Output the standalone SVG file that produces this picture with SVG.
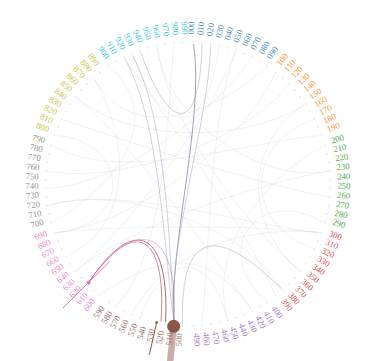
<svg xmlns="http://www.w3.org/2000/svg" width="374" height="361" viewBox="0 0 374 361">
<defs>
<style>
text{font-family:"Liberation Serif","Times New Roman",serif;font-size:8.7px;opacity:.85}
.e text{text-anchor:end}
.g0{fill:#1f77b4}.g1{fill:#ff7f0e}.g2{fill:#2ca02c}.g3{fill:#d62728}.g4{fill:#9467bd}
.g5{fill:#8c564b}.g6{fill:#e377c2}.g7{fill:#7f7f7f}.g8{fill:#bcbd22}.g9{fill:#17becf}
circle.d{fill:#e0e0e0}
.c{fill:none;stroke:#c4c6dc;stroke-width:.7;opacity:.35}
.h{fill:none;stroke:#a4a8c6;stroke-width:.8;opacity:.65}
.k{fill:none;stroke:#6f7499;stroke-width:.9;opacity:.75}
.p{fill:none;stroke:url(#pb);stroke-width:.9}
</style>
<linearGradient id="pb" gradientUnits="userSpaceOnUse" x1="88" y1="282" x2="165" y2="322">
<stop offset="0" stop-color="#d96aa8"/><stop offset="1" stop-color="#9a5a55"/>
</linearGradient>
</defs>
<rect width="374" height="361" fill="#fff"/>
<g id="connectors">
<path class="c" d="M274.7,74.1C244.6,142.9 131.4,225.1 56.7,232.5"/>
<path class="c" d="M287.4,85.4C244.6,142.9 118,184 48.6,171.2"/>
<path class="c" d="M303.7,105.2C244.6,142.9 244.6,225.1 298.7,269.7"/>
<path class="c" d="M312.5,119.9C244.6,142.9 244.6,225.1 312.5,248.1"/>
<path class="c" d="M322.8,146C258,184 209.6,250.6 227.2,318.4"/>
<path class="c" d="M327.4,171.2C258,184 131.4,225.1 77.3,269.7"/>
<path class="c" d="M327.4,196.8C258,184 131.4,142.9 63.5,119.9"/>
<path class="c" d="M322.8,222C258,184 209.6,250.6 265.8,300.4"/>
<path class="c" d="M319.3,232.5C244.6,225.1 166.4,250.6 132.7,312.6"/>
<path class="c" d="M281.2,288.5C244.6,225.1 118,184 49.6,205.3"/>
<path class="c" d="M251,309C209.6,250.6 131.4,142.9 77.3,98.3"/>
<path class="c" d="M202,323.3C209.6,250.6 209.6,117.4 235.3,52.2"/>
<path class="c" d="M67.7,255.6C131.4,225.1 131.4,142.9 94.8,79.5"/>
<path class="c" d="M56.7,232.5C131.4,225.1 131.4,142.9 56.7,135.5"/>
<path class="c" d="M53.2,222C118,184 166.4,117.4 110.2,67.6"/>
<path class="c" d="M48.1,188.3C118,184 209.6,117.4 251,59"/>
<path class="c" d="M53.2,146C118,184 244.6,142.9 319.3,135.5"/>
<path class="c" d="M125,59C166.4,117.4 244.6,225.1 274.7,293.9"/>
<path class="c" d="M157.1,47.5C166.4,117.4 258,184 327.4,171.2"/>
<path class="c" d="M174,44.7C166.4,117.4 166.4,250.6 117.5,304.9"/>
<path class="c" d="M132.7,55.4C165,140 205,140 218.9,47.5"/>
<path class="c" d="M101.3,293.9C166.4,250.6 209.6,250.6 251,309"/>
<path class="c" d="M140.7,315.8C166.4,250.6 209.6,250.6 227.2,318.4"/>
<path class="c" d="M77.3,98.3C131.4,142.9 244.6,142.9 303.7,105.2"/>
<path class="c" d="M94.8,79.5C131.4,142.9 209.6,117.4 265.8,67.6"/>
<path class="c" d="M49.6,205.3C118,184 244.6,225.1 319.3,232.5"/>
<path class="c" d="M56.7,232.5C131.4,225 244.6,225 319.3,232.5"/>
<path class="c" d="M235.3,52.2C209.6,117.4 131.4,225.1 77.3,269.7"/>
<path class="c" d="M157.1,47.5C166.4,117.4 244.6,225.1 298.7,269.7"/>
<path class="h" d="M182.5,323.9C180,225 220,228 281.2,288.5"/>
<path class="h" d="M140.7,52.2C170,135 200,135 202,44.7"/>
<path class="k" d="M193.5,44.1C205,117.4 168,250.6 174,323.3"/>
<path class="h" d="M210.5,45.8C209.6,117.4 166.4,250.6 174,323.3"/>
<path class="h" d="M132.7,55.4C166.4,117.4 170,250.6 174,323.3"/>
<path class="h" d="M125,59C160,120 164,250.6 174,323.3"/>
<path class="p" d="M88.6,282.6C135,212 170,232 165.5,322.2"/>
<path class="p" d="M88.6,282.6C135,215 167,234 161,321.5" opacity=".8"/>
<path class="p" d="M88.6,282.6C138,212 180,230 174,323.3" opacity=".45"/>
<line x1="109.9" y1="261.4" x2="63" y2="307.9" stroke="#e377c2" stroke-width="1"/>
<line x1="156.4" y1="323.5" x2="149.4" y2="354.7" stroke="#8c564b" stroke-width="1"/>
<line x1="173.7" y1="326.3" x2="169.5" y2="368" stroke="#bda39b" stroke-width="6.5" opacity=".85"/>
</g>
<g transform="translate(188,184)">
<g class="g0">
<g id="n000" transform="rotate(-87.75)"><circle class="d" cx="142" r=".8"/><text x="149.5">000</text></g>
<g id="n010" transform="rotate(-84.25)"><circle class="d" cx="142" r=".8"/><text x="149.5">010</text></g>
<g id="n020" transform="rotate(-80.75)"><circle class="d" cx="142" r=".8"/><text x="149.5">020</text></g>
<g id="n030" transform="rotate(-77.25)"><circle class="d" cx="142" r=".8"/><text x="149.5">030</text></g>
<g id="n040" transform="rotate(-73.75)"><circle class="d" cx="142" r=".8"/><text x="149.5">040</text></g>
<g id="n050" transform="rotate(-70.25)"><circle class="d" cx="142" r=".8"/><text x="149.5">050</text></g>
<g id="n060" transform="rotate(-66.75)"><circle class="d" cx="142" r=".8"/><text x="149.5">060</text></g>
<g id="n070" transform="rotate(-63.25)"><circle class="d" cx="142" r=".8"/><text x="149.5">070</text></g>
<g id="n080" transform="rotate(-59.75)"><circle class="d" cx="142" r=".8"/><text x="149.5">080</text></g>
<g id="n090" transform="rotate(-56.25)"><circle class="d" cx="142" r=".8"/><text x="149.5">090</text></g>
</g>
<g class="g1">
<g id="n100" transform="rotate(-51.75)"><circle class="d" cx="142" r=".8"/><text x="149.5">100</text></g>
<g id="n110" transform="rotate(-48.25)"><circle class="d" cx="142" r=".8"/><text x="149.5">110</text></g>
<g id="n120" transform="rotate(-44.75)"><circle class="d" cx="142" r=".8"/><text x="149.5">120</text></g>
<g id="n130" transform="rotate(-41.25)"><circle class="d" cx="142" r=".8"/><text x="149.5">130</text></g>
<g id="n140" transform="rotate(-37.75)"><circle class="d" cx="142" r=".8"/><text x="149.5">140</text></g>
<g id="n150" transform="rotate(-34.25)"><circle class="d" cx="142" r=".8"/><text x="149.5">150</text></g>
<g id="n160" transform="rotate(-30.75)"><circle class="d" cx="142" r=".8"/><text x="149.5">160</text></g>
<g id="n170" transform="rotate(-27.25)"><circle class="d" cx="142" r=".8"/><text x="149.5">170</text></g>
<g id="n180" transform="rotate(-23.75)"><circle class="d" cx="142" r=".8"/><text x="149.5">180</text></g>
<g id="n190" transform="rotate(-20.25)"><circle class="d" cx="142" r=".8"/><text x="149.5">190</text></g>
</g>
<g class="g2">
<g id="n200" transform="rotate(-15.75)"><circle class="d" cx="142" r=".8"/><text x="149.5">200</text></g>
<g id="n210" transform="rotate(-12.25)"><circle class="d" cx="142" r=".8"/><text x="149.5">210</text></g>
<g id="n220" transform="rotate(-8.75)"><circle class="d" cx="142" r=".8"/><text x="149.5">220</text></g>
<g id="n230" transform="rotate(-5.25)"><circle class="d" cx="142" r=".8"/><text x="149.5">230</text></g>
<g id="n240" transform="rotate(-1.75)"><circle class="d" cx="142" r=".8"/><text x="149.5">240</text></g>
<g id="n250" transform="rotate(1.75)"><circle class="d" cx="142" r=".8"/><text x="149.5">250</text></g>
<g id="n260" transform="rotate(5.25)"><circle class="d" cx="142" r=".8"/><text x="149.5">260</text></g>
<g id="n270" transform="rotate(8.75)"><circle class="d" cx="142" r=".8"/><text x="149.5">270</text></g>
<g id="n280" transform="rotate(12.25)"><circle class="d" cx="142" r=".8"/><text x="149.5">280</text></g>
<g id="n290" transform="rotate(15.75)"><circle class="d" cx="142" r=".8"/><text x="149.5">290</text></g>
</g>
<g class="g3">
<g id="n300" transform="rotate(20.25)"><circle class="d" cx="142" r=".8"/><text x="149.5">300</text></g>
<g id="n310" transform="rotate(23.75)"><circle class="d" cx="142" r=".8"/><text x="149.5">310</text></g>
<g id="n320" transform="rotate(27.25)"><circle class="d" cx="142" r=".8"/><text x="149.5">320</text></g>
<g id="n330" transform="rotate(30.75)"><circle class="d" cx="142" r=".8"/><text x="149.5">330</text></g>
<g id="n340" transform="rotate(34.25)"><circle class="d" cx="142" r=".8"/><text x="149.5">340</text></g>
<g id="n350" transform="rotate(37.75)"><circle class="d" cx="142" r=".8"/><text x="149.5">350</text></g>
<g id="n360" transform="rotate(41.25)"><circle class="d" cx="142" r=".8"/><text x="149.5">360</text></g>
<g id="n370" transform="rotate(44.75)"><circle class="d" cx="142" r=".8"/><text x="149.5">370</text></g>
<g id="n380" transform="rotate(48.25)"><circle class="d" cx="142" r=".8"/><text x="149.5">380</text></g>
<g id="n390" transform="rotate(51.75)"><circle class="d" cx="142" r=".8"/><text x="149.5">390</text></g>
</g>
<g class="g4">
<g id="n400" transform="rotate(56.25)"><circle class="d" cx="142" r=".8"/><text x="149.5">400</text></g>
<g id="n410" transform="rotate(59.75)"><circle class="d" cx="142" r=".8"/><text x="149.5">410</text></g>
<g id="n420" transform="rotate(63.25)"><circle class="d" cx="142" r=".8"/><text x="149.5">420</text></g>
<g id="n430" transform="rotate(66.75)"><circle class="d" cx="142" r=".8"/><text x="149.5">430</text></g>
<g id="n440" transform="rotate(70.25)"><circle class="d" cx="142" r=".8"/><text x="149.5">440</text></g>
<g id="n450" transform="rotate(73.75)"><circle class="d" cx="142" r=".8"/><text x="149.5">450</text></g>
<g id="n460" transform="rotate(77.25)"><circle class="d" cx="142" r=".8"/><text x="149.5">460</text></g>
<g id="n470" transform="rotate(80.75)"><circle class="d" cx="142" r=".8"/><text x="149.5">470</text></g>
<g id="n480" transform="rotate(84.25)"><circle class="d" cx="142" r=".8"/><text x="149.5">480</text></g>
<g id="n490" transform="rotate(87.75)"><circle class="d" cx="142" r=".8"/><text x="149.5">490</text></g>
</g>
<g class="g5 e">
<g id="n500" transform="rotate(-87.75)"><circle class="d" cx="-142" r=".8"/><text x="-149.5">500</text></g>
<g id="n510" transform="rotate(-84.25)"><text x="-149.5">510</text></g>
<g id="n520" transform="rotate(-80.75)"><circle class="d" cx="-142" r=".8"/><text x="-149.5">520</text></g>
<g id="n530" transform="rotate(-77.25)"><circle cx="-142" r="1.4" fill="#8c564b"/><text x="-149.5">530</text></g>
<g id="n540" transform="rotate(-73.75)"><circle class="d" cx="-142" r=".8"/><text x="-149.5">540</text></g>
<g id="n550" transform="rotate(-70.25)"><circle class="d" cx="-142" r=".8"/><text x="-149.5">550</text></g>
<g id="n560" transform="rotate(-66.75)"><circle class="d" cx="-142" r=".8"/><text x="-149.5">560</text></g>
<g id="n570" transform="rotate(-63.25)"><circle class="d" cx="-142" r=".8"/><text x="-149.5">570</text></g>
<g id="n580" transform="rotate(-59.75)"><circle class="d" cx="-142" r=".8"/><text x="-149.5">580</text></g>
<g id="n590" transform="rotate(-56.25)"><circle class="d" cx="-142" r=".8"/><text x="-149.5">590</text></g>
</g>
<g class="g6 e">
<g id="n600" transform="rotate(-51.75)"><circle class="d" cx="-142" r=".8"/><text x="-149.5">600</text></g>
<g id="n610" transform="rotate(-48.25)"><circle class="d" cx="-142" r=".8"/><text x="-149.5">610</text></g>
<g id="n620" transform="rotate(-44.75)"><circle cx="-140" r="2" fill="#e377c2"/><text x="-149.5">620</text></g>
<g id="n630" transform="rotate(-41.25)"><circle class="d" cx="-142" r=".8"/><text x="-149.5">630</text></g>
<g id="n640" transform="rotate(-37.75)"><circle class="d" cx="-142" r=".8"/><text x="-149.5">640</text></g>
<g id="n650" transform="rotate(-34.25)"><circle class="d" cx="-142" r=".8"/><text x="-149.5">650</text></g>
<g id="n660" transform="rotate(-30.75)"><circle class="d" cx="-142" r=".8"/><text x="-149.5">660</text></g>
<g id="n670" transform="rotate(-27.25)"><circle class="d" cx="-142" r=".8"/><text x="-149.5">670</text></g>
<g id="n680" transform="rotate(-23.75)"><circle class="d" cx="-142" r=".8"/><text x="-149.5">680</text></g>
<g id="n690" transform="rotate(-20.25)"><circle class="d" cx="-142" r=".8"/><text x="-149.5">690</text></g>
</g>
<g class="g7 e">
<g id="n700" transform="rotate(-15.75)"><circle class="d" cx="-142" r=".8"/><text x="-149.5">700</text></g>
<g id="n710" transform="rotate(-12.25)"><circle class="d" cx="-142" r=".8"/><text x="-149.5">710</text></g>
<g id="n720" transform="rotate(-8.75)"><circle class="d" cx="-142" r=".8"/><text x="-149.5">720</text></g>
<g id="n730" transform="rotate(-5.25)"><circle class="d" cx="-142" r=".8"/><text x="-149.5">730</text></g>
<g id="n740" transform="rotate(-1.75)"><circle class="d" cx="-142" r=".8"/><text x="-149.5">740</text></g>
<g id="n750" transform="rotate(1.75)"><circle class="d" cx="-142" r=".8"/><text x="-149.5">750</text></g>
<g id="n760" transform="rotate(5.25)"><circle class="d" cx="-142" r=".8"/><text x="-149.5">760</text></g>
<g id="n770" transform="rotate(8.75)"><circle class="d" cx="-142" r=".8"/><text x="-149.5">770</text></g>
<g id="n780" transform="rotate(12.25)"><circle class="d" cx="-142" r=".8"/><text x="-149.5">780</text></g>
<g id="n790" transform="rotate(15.75)"><circle class="d" cx="-142" r=".8"/><text x="-149.5">790</text></g>
</g>
<g class="g8 e">
<g id="n800" transform="rotate(20.25)"><circle class="d" cx="-142" r=".8"/><text x="-149.5">800</text></g>
<g id="n810" transform="rotate(23.75)"><circle class="d" cx="-142" r=".8"/><text x="-149.5">810</text></g>
<g id="n820" transform="rotate(27.25)"><circle class="d" cx="-142" r=".8"/><text x="-149.5">820</text></g>
<g id="n830" transform="rotate(30.75)"><circle class="d" cx="-142" r=".8"/><text x="-149.5">830</text></g>
<g id="n840" transform="rotate(34.25)"><circle class="d" cx="-142" r=".8"/><text x="-149.5">840</text></g>
<g id="n850" transform="rotate(37.75)"><circle class="d" cx="-142" r=".8"/><text x="-149.5">850</text></g>
<g id="n860" transform="rotate(41.25)"><circle class="d" cx="-142" r=".8"/><text x="-149.5">860</text></g>
<g id="n870" transform="rotate(44.75)"><circle class="d" cx="-142" r=".8"/><text x="-149.5">870</text></g>
<g id="n880" transform="rotate(48.25)"><circle class="d" cx="-142" r=".8"/><text x="-149.5">880</text></g>
<g id="n890" transform="rotate(51.75)"><circle class="d" cx="-142" r=".8"/><text x="-149.5">890</text></g>
</g>
<g class="g9 e">
<g id="n900" transform="rotate(56.25)"><circle class="d" cx="-142" r=".8"/><text x="-149.5">900</text></g>
<g id="n910" transform="rotate(59.75)"><circle class="d" cx="-142" r=".8"/><text x="-149.5">910</text></g>
<g id="n920" transform="rotate(63.25)"><circle class="d" cx="-142" r=".8"/><text x="-149.5">920</text></g>
<g id="n930" transform="rotate(66.75)"><circle class="d" cx="-142" r=".8"/><text x="-149.5">930</text></g>
<g id="n940" transform="rotate(70.25)"><circle class="d" cx="-142" r=".8"/><text x="-149.5">940</text></g>
<g id="n950" transform="rotate(73.75)"><circle class="d" cx="-142" r=".8"/><text x="-149.5">950</text></g>
<g id="n960" transform="rotate(77.25)"><circle class="d" cx="-142" r=".8"/><text x="-149.5">960</text></g>
<g id="n970" transform="rotate(80.75)"><circle class="d" cx="-142" r=".8"/><text x="-149.5">970</text></g>
<g id="n980" transform="rotate(84.25)"><circle class="d" cx="-142" r=".8"/><text x="-149.5">980</text></g>
<g id="n990" transform="rotate(87.75)"><circle class="d" cx="-142" r=".8"/><text x="-149.5">990</text></g>
</g>
</g>
<circle id="n510-node" cx="173.7" cy="326.3" r="6.5" fill="#8c564b"/>
</svg>
